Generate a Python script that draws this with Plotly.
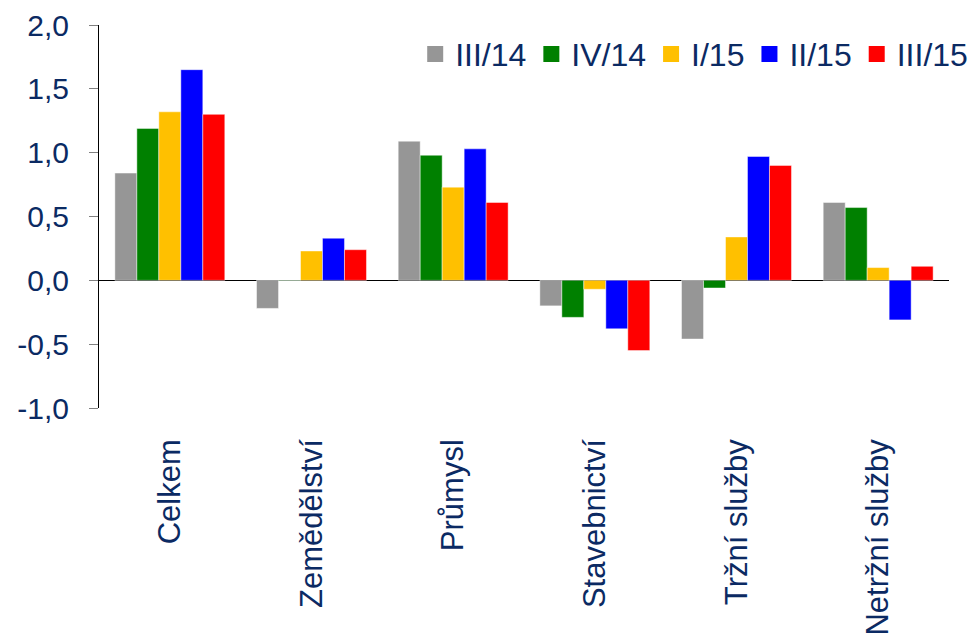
import plotly.graph_objects as go

categories = ["Celkem", "Zemědělství", "Průmysl", "Stavebnictví", "Tržní služby", "Netržní služby"]
series_names = ["III/14", "IV/14", "I/15", "II/15", "III/15"]
s_III14 = [0.84, -0.22, 1.09, -0.20, -0.46, 0.61]
s_IV14 = [1.19, -0.003, 0.98, -0.29, -0.06, 0.57]
s_I15 = [1.32, 0.23, 0.73, -0.07, 0.34, 0.10]
s_II15 = [1.65, 0.33, 1.03, -0.38, 0.97, -0.31]
s_III15 = [1.30, 0.24, 0.61, -0.55, 0.90, 0.11]
series_values = [s_III14, s_IV14, s_I15, s_II15, s_III15]
colors = ["#969696", "#008000", "#FFC000", "#0000FF", "#FF0000"]

y_tickvals = [-1.0, -0.5, 0.0, 0.5, 1.0, 1.5, 2.0]
y_ticktext = ["-1,0", "-0,5", "0,0", "0,5", "1,0", "1,5", "2,0"]

FONT = "Liberation Sans, Arial, sans-serif"
TXT = "#0B2A63"

fig = go.Figure()
for name, vals, col in zip(series_names, series_values, colors):
    fig.add_trace(go.Bar(
        x=categories, y=vals, name=name, showlegend=False,
        marker=dict(color=col, line=dict(color="rgba(255,255,255,0.45)", width=1)),
    ))
# legend entries with larger square symbols
for name, col in zip(series_names, colors):
    fig.add_trace(go.Scatter(
        x=[None], y=[None], mode="markers", name=name,
        marker=dict(symbol="square", size=16, color=col),
    ))

fig.update_layout(
    width=974, height=635,
    margin=dict(l=99, r=25, t=25, b=227, autoexpand=False),
    paper_bgcolor="white", plot_bgcolor="white",
    barmode="group", bargap=0.224, bargroupgap=0,
    font=dict(family=FONT, size=30, color=TXT),
    showlegend=True,
    legend=dict(
        orientation="h", x=0.372, xanchor="left", y=0.924, yanchor="middle",
        font=dict(family=FONT, size=32, color=TXT),
        bgcolor="rgba(0,0,0,0)", itemwidth=30, tracegroupgap=0,
    ),
    xaxis=dict(
        type="category", showline=False, showgrid=False, zeroline=False,
        ticks="", tickangle=-90, ticklabelstandoff=24,
        tickfont=dict(family=FONT, size=31, color=TXT),
        automargin=False,
    ),
    yaxis=dict(
        range=[-1.0, 2.0], tickvals=y_tickvals, ticktext=y_ticktext,
        showgrid=False, showline=True, linecolor="black", linewidth=1,
        ticks="outside", ticklen=9, tickcolor="#808080", tickwidth=1,
        ticklabelstandoff=14,
        zeroline=True, zerolinecolor="black", zerolinewidth=1,
        tickfont=dict(family=FONT, size=30, color=TXT),
        automargin=False,
    ),
)

fig.write_html("out.html")
